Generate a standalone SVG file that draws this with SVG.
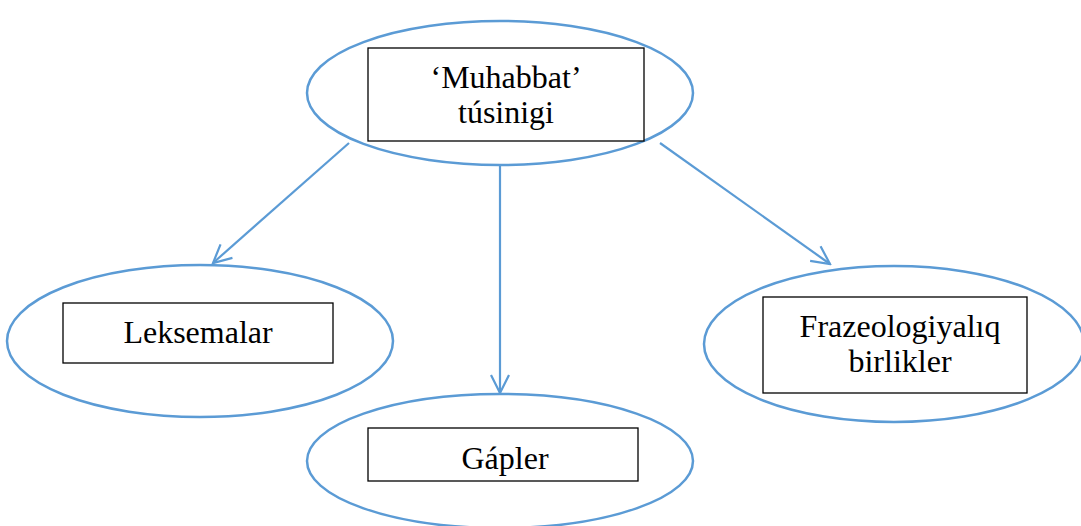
<svg xmlns="http://www.w3.org/2000/svg" width="1081" height="526" viewBox="0 0 1081 526">
<style>
.ell{fill:none;stroke:#5B9BD5;stroke-width:2.5}
.box{fill:#fff;stroke:#000;stroke-width:1.3}
.lbl{font-family:"Liberation Serif","Times New Roman",serif;font-size:32px;fill:#000;text-anchor:middle}
.conn{fill:none;stroke:#5B9BD5;stroke-width:2.2}
</style>
<defs>
<marker id="arr" viewBox="0 0 22 22" refX="20" refY="11" markerWidth="22" markerHeight="22" markerUnits="userSpaceOnUse" orient="auto">
<path d="M2,2 L20,11 L2,20" fill="none" stroke="#5B9BD5" stroke-width="2.2"/>
</marker>
</defs>
<rect width="1081" height="526" fill="#fff"/>
<g id="connectors">
<line class="conn" x1="349" y1="143" x2="213" y2="263" marker-end="url(#arr)"/>
<line class="conn" x1="500" y1="165" x2="500" y2="393" marker-end="url(#arr)"/>
<line class="conn" x1="660" y1="143" x2="830" y2="264" marker-end="url(#arr)"/>
</g>
<g id="node-muhabbat">
<ellipse class="ell" cx="500" cy="93" rx="193" ry="72"/>
<rect class="box" x="368" y="48" width="276" height="93"/>
<text class="lbl" x="506" y="88">‘Muhabbat’</text>
<text class="lbl" x="506" y="123">túsinigi</text>
</g>
<g id="node-leksemalar">
<ellipse class="ell" cx="200" cy="341" rx="193" ry="76"/>
<rect class="box" x="63" y="303" width="270" height="60"/>
<text class="lbl" x="198" y="343">Leksemalar</text>
</g>
<g id="node-frazeologiyaliq">
<ellipse class="ell" cx="894" cy="344" rx="190" ry="78"/>
<rect class="box" x="763" y="297" width="264" height="96"/>
<text class="lbl" x="900" y="337">Frazeologiyalıq</text>
<text class="lbl" x="900" y="372">birlikler</text>
</g>
<g id="node-gapler">
<ellipse class="ell" cx="500" cy="461" rx="193" ry="67"/>
<rect class="box" x="368" y="428" width="270" height="53"/>
<text class="lbl" x="505" y="469">Gápler</text>
</g>
</svg>
